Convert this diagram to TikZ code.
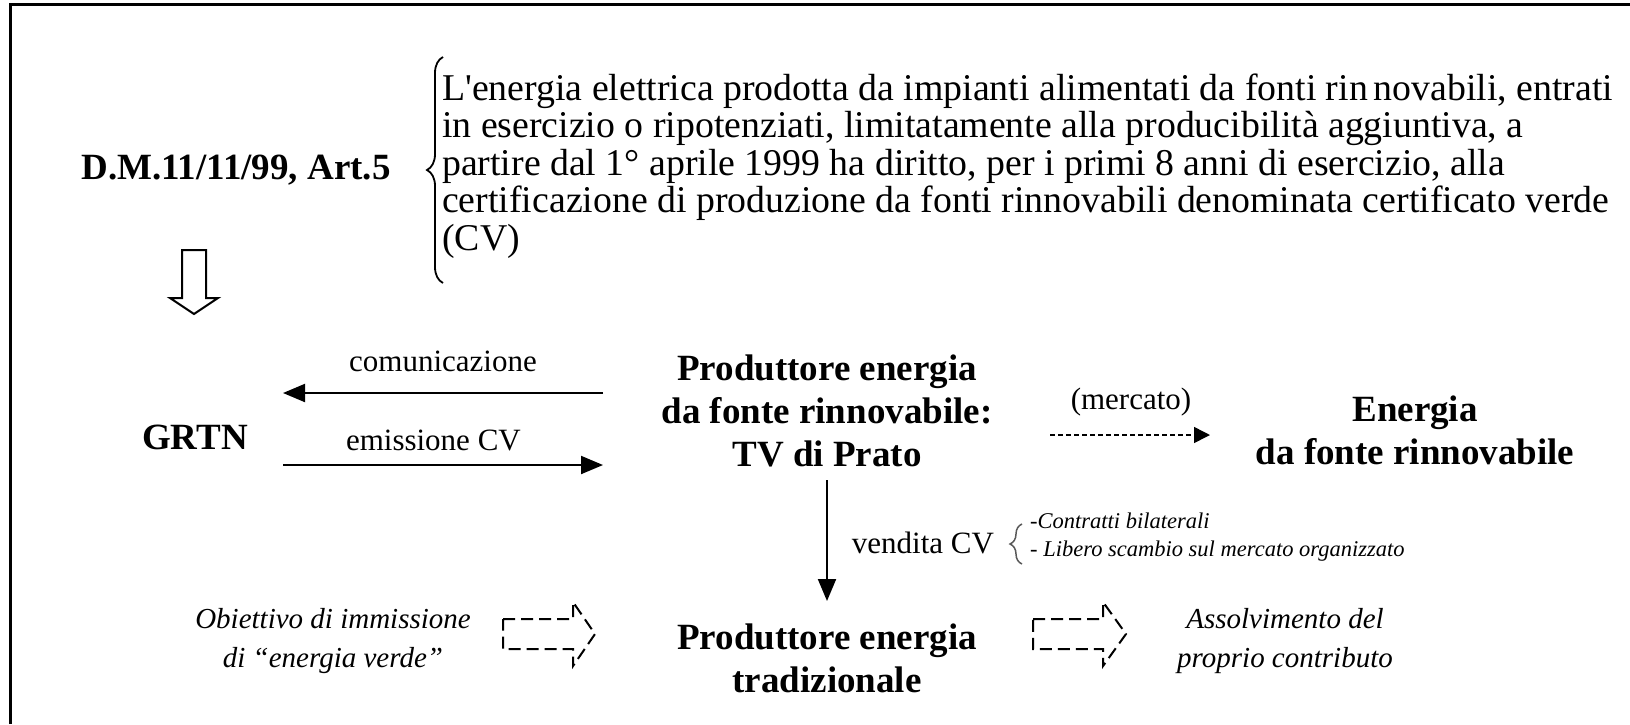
\documentclass[tikz,border=0pt]{standalone}
\usepackage{graphicx}
\usepackage{fontspec}
\setmainfont{Liberation Serif}[Ligatures=TeXOff]
\usetikzlibrary{arrows.meta,decorations.pathreplacing}
\begin{document}
\begin{tikzpicture}[x=1pt,y=-1pt,
  bnode/.style={font=\fontsize{37}{43}\selectfont\bfseries, align=center, inner sep=0},
  lbl/.style={font=\fontsize{31}{34}\selectfont, inner sep=0},
  para/.style={font=\fontsize{37.8}{37.5}\selectfont, inner sep=0, anchor=base west},
  itl/.style={font=\fontsize{29}{38.5}\selectfont\itshape, align=center, inner sep=0},
  small/.style={font=\fontsize{22.5}{28}\selectfont\itshape, inner sep=0, anchor=base west},
  arr/.style={line width=2pt, -{Triangle[length=22pt,width=18pt]}},
  darr/.style={line width=1.5pt, dash pattern=on 5pt off 3pt, -{Triangle[length=16pt,width=16pt]}},
  hollow/.style={line width=2pt, dash pattern=on 12pt off 6pt}
]
\useasboundingbox (0,0) rectangle (1630,724);
\draw[line width=3pt] (10,724) -- (10,4) -- (1630,4);

\node[bnode] (dm) at (236,170) {D.M.11/11/99, Art.5};
\draw[line width=1.8pt, decorate, decoration={brace, amplitude=16pt, aspect=0.5}] (443,283) -- (443,57);
\node[para] (p1) at (442,100) {L'energia elettrica prodotta da impianti alimentati da fonti rin\hspace{0.15em}novabili, entrati};
\node[para] (p2) at (442,137.5) {in esercizio o ripotenziati, limitatamente alla producibilità aggiuntiva, a};
\node[para] (p3) at (442,175) {partire dal 1° aprile 1999 ha diritto, per i primi 8 anni di esercizio, alla};
\node[para] (p4) at (442,212.5) {certificazione di produzione da fonti rinnovabili denominata certificato verde};
\node[para] (p5) at (442,250) {(CV)};

\draw[line width=2pt, line join=miter] (182,250) -- (182,298) -- (170,298) -- (194,314) -- (218,298) -- (206,298) -- (206,250) -- cycle;

\node[bnode] (grtn) at (195,437) {GRTN};
\node[bnode] (prod) at (827,411) {Produttore energia\\da fonte rinnovabile:\\TV di Prato};
\node[bnode] (en) at (1415,430) {Energia\\da fonte rinnovabile};
\node[bnode] (trad) at (827,658) {Produttore energia\\tradizionale};

\coordinate (c1s) at (603,393); \coordinate (c1e) at (283,393);
\coordinate (c2s) at (283,465); \coordinate (c2e) at (603,465);
\draw[arr] (c1s) -- (c1e) node[lbl, midway, above=20pt] {comunicazione};
\draw[arr] (c2s) -- (c2e) node[lbl, pos=0.47, above=13pt] {emissione CV};

\coordinate (m1) at (1050,435); \coordinate (m2) at (1210,435);
\draw[darr] (m1) -- (m2);
\node[lbl] (merc) at (1131,402) {(mercato)};

\draw[arr] (prod.south |- 0,480) -- (trad.north |- 0,601);
\node[lbl] (vend) at (923,543) {vendita CV};
\draw[line width=1.5pt, gray!70!black, decorate, decoration={brace, amplitude=12pt, aspect=0.5}] (1022,564) -- (1022,524);
\node[small] (l1) at (1030,528) {-Contratti bilaterali};
\node[small] (l2) at (1030,556) {- Libero scambio sul mercato organizzato};

\node[itl] (obj) at (333,641) {Obiettivo di immissione\\di “energia verde”};
\node[itl] (ass) at (1285,641) {Assolvimento del\\proprio contributo};

\draw[hollow] (503,619) -- (573,619) -- (573,602) -- (595,634) -- (573,666) -- (573,649) -- (503,649) -- cycle;
\draw[hollow] (1033,619) -- (1103,619) -- (1103,602) -- (1126,634) -- (1103,666) -- (1103,649) -- (1033,649) -- cycle;
\end{tikzpicture}
\end{document}
